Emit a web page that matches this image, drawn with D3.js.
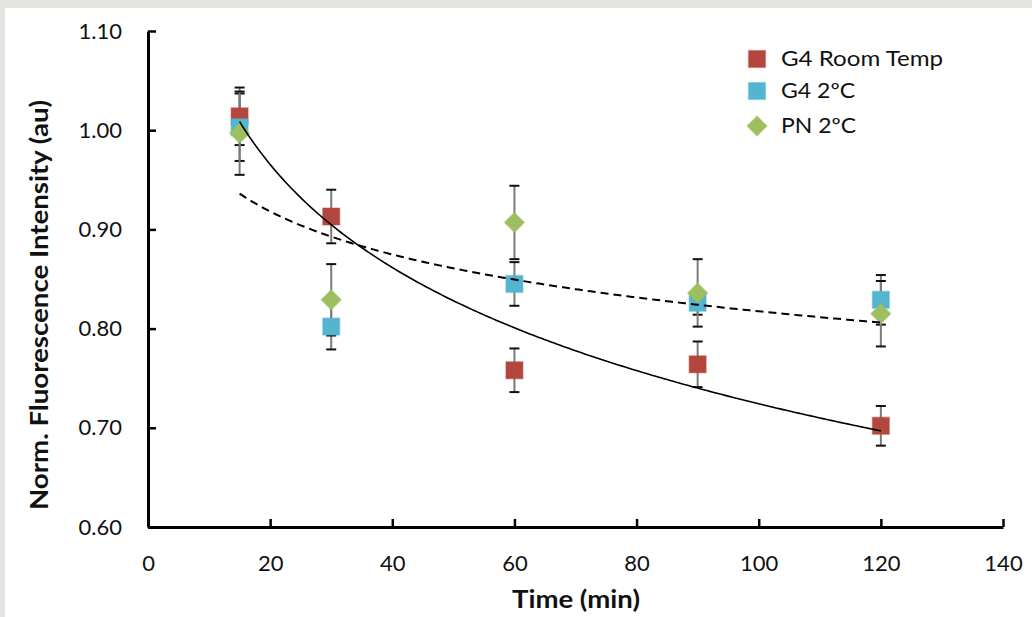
<!DOCTYPE html>
<html>
<head>
<meta charset="utf-8">
<script src="https://cdn.jsdelivr.net/npm/d3@7/dist/d3.min.js"></script>
<style>
  html, body { margin: 0; padding: 0; background: #ffffff; }
  svg { display: block; }
  text { font-family: Lato, "Open Sans", "Liberation Sans", sans-serif; fill: #111; }
</style>
</head>
<body>
<svg id="chart" width="1032" height="617"></svg>
<script>
// Sampling times (min)
const times = [15, 30, 60, 90, 120];

// Normalised fluorescence intensity per series, with error half-widths
const roomTemp    = [1.014, 0.913, 0.758, 0.764, 0.702];
const roomTempErr = [0.029, 0.027, 0.022, 0.023, 0.020];
const g4Cold      = [1.003, 0.802, 0.845, 0.826, 0.829];
const g4ColdErr   = [0.034, 0.023, 0.022, 0.012, 0.025];
const pnCold      = [0.997, 0.829, 0.907, 0.836, 0.815];
const pnColdErr   = [0.042, 0.036, 0.037, 0.034, 0.033];

const seriesNames = ["G4 Room Temp", "G4 2ºC", "PN 2ºC"];
const seriesColors = ["#b3473f", "#53b5d0", "#9dbf5f"];
const seriesShapes = ["square", "square", "diamond"];

// Dashed logarithmic trend, y = a + b·ln(x)
const coldTrendCoef = [1.1053, -0.0625];

// Axis ticks
const xTicks = [0, 20, 40, 60, 80, 100, 120, 140];
const yTicks = [0.60, 0.70, 0.80, 0.90, 1.00, 1.10];

const svg = d3.select("#chart");
const W = 1032, H = 617;

// Light grey frame along the top and left edges
svg.append("rect").attr("x", 0).attr("y", 0).attr("width", W).attr("height", 8).attr("fill", "#e6e4e1");
svg.append("rect").attr("x", 0).attr("y", 0).attr("width", 5).attr("height", H).attr("fill", "#e6e4e1");

const x = d3.scaleLinear().domain([0, 140]).range([148, 1003]);
const y = d3.scaleLinear().domain([0.6, 1.1]).range([527, 31]);

// Axes with inward ticks
const yAxis = d3.axisLeft(y).tickValues(yTicks).tickFormat(d3.format(".2f"))
  .tickSize(-8).tickSizeOuter(0).tickPadding(26);
const xAxis = d3.axisBottom(x).tickValues(xTicks).tickFormat(d3.format("d"))
  .tickSize(-8).tickSizeOuter(0).tickPadding(28);

const gy = svg.append("g").attr("transform", `translate(${x(0)},0)`).call(yAxis);
const gx = svg.append("g").attr("transform", `translate(0,${y(0.6)})`).call(xAxis);
[gx, gy].forEach(g => {
  g.select(".domain").attr("stroke", "#000").attr("stroke-width", 3);
  g.selectAll(".tick line").attr("stroke", "#000").attr("stroke-width", 2.5);
  g.selectAll(".tick text").attr("font-size", 22).attr("fill", "#111")
    .attr("font-family", "Lato, 'Open Sans', sans-serif");
});

// Axis titles
svg.append("text").attr("x", 576).attr("y", 608).attr("text-anchor", "middle")
  .attr("font-size", 24).attr("font-weight", "bold")
  .attr("textLength", 128).attr("lengthAdjust", "spacingAndGlyphs").text("Time (min)");
svg.append("text").attr("transform", `translate(48,${(100 + 510) / 2}) rotate(-90)`)
  .attr("text-anchor", "middle").attr("font-size", 24).attr("font-weight", "bold")
  .attr("textLength", 410).attr("lengthAdjust", "spacingAndGlyphs")
  .text("Norm. Fluorescence Intensity (au)");

const series = [
  { name: seriesNames[0], vals: roomTemp, err: roomTempErr, color: seriesColors[0], shape: seriesShapes[0] },
  { name: seriesNames[1], vals: g4Cold,   err: g4ColdErr,   color: seriesColors[1], shape: seriesShapes[1] },
  { name: seriesNames[2], vals: pnCold,   err: pnColdErr,   color: seriesColors[2], shape: seriesShapes[2] }
];

// Error bars: grey stems and black caps
const capHalf = 5;
series.forEach(s => {
  const g = svg.append("g");
  times.forEach((t, i) => {
    const cx = x(t), top = y(s.vals[i] + s.err[i]), bot = y(s.vals[i] - s.err[i]);
    g.append("line").attr("x1", cx).attr("x2", cx).attr("y1", top).attr("y2", bot)
      .attr("stroke", "#7a7a7a").attr("stroke-width", 2);
    [top, bot].forEach(yy => g.append("line")
      .attr("x1", cx - capHalf).attr("x2", cx + capHalf).attr("y1", yy).attr("y2", yy)
      .attr("stroke", "#111").attr("stroke-width", 2));
  });
});

// Markers
const sq = d3.symbol().type(d3.symbolSquare).size(17 * 17);
const dm = d3.symbol().type(d3.symbolDiamond2).size(16 * 16);
function marker(sel, shape) { return sel.attr("d", shape === "diamond" ? dm() : sq()); }

series.forEach(s => {
  svg.append("g").selectAll("path").data(times).join("path")
    .call(p => marker(p, s.shape))
    .attr("transform", (t, i) => `translate(${x(t)},${y(s.vals[i])})`)
    .attr("fill", s.color)
    .attr("stroke", s.color).attr("stroke-opacity", 0.35).attr("stroke-width", 1.5);
});

// Solid logarithmic least-squares trend for the room-temperature series
const lx = times.map(Math.log);
const mx = d3.mean(lx), my = d3.mean(roomTemp);
const b = d3.sum(lx.map((v, i) => (v - mx) * (roomTemp[i] - my))) / d3.sum(lx.map(v => (v - mx) ** 2));
const a = my - b * mx;

const tGrid = d3.range(15, 120.01, 0.5);
const line = d3.line().x(d => x(d[0])).y(d => y(d[1]));

svg.append("path").datum(tGrid.map(t => [t, a + b * Math.log(t)]))
  .attr("d", line).attr("fill", "none").attr("stroke", "#000").attr("stroke-width", 1.6);

svg.append("path").datum(tGrid.map(t => [t, coldTrendCoef[0] + coldTrendCoef[1] * Math.log(t)]))
  .attr("d", line).attr("fill", "none").attr("stroke", "#000").attr("stroke-width", 2)
  .attr("stroke-dasharray", "8,5");

// Legend
const legendRows = [59, 91, 126];
const legendWidths = [162, 74, 75];
const lg = svg.append("g");
series.forEach((s, i) => {
  lg.append("path").call(p => marker(p, s.shape))
    .attr("transform", `translate(757,${legendRows[i]})`)
    .attr("fill", s.color).attr("stroke", s.color).attr("stroke-opacity", 0.35).attr("stroke-width", 1.5);
  lg.append("text").attr("x", 781).attr("y", legendRows[i]).attr("dy", "0.35em")
    .attr("font-size", 21).attr("textLength", legendWidths[i]).attr("lengthAdjust", "spacingAndGlyphs")
    .text(s.name);
});
</script>
</body>
</html>
